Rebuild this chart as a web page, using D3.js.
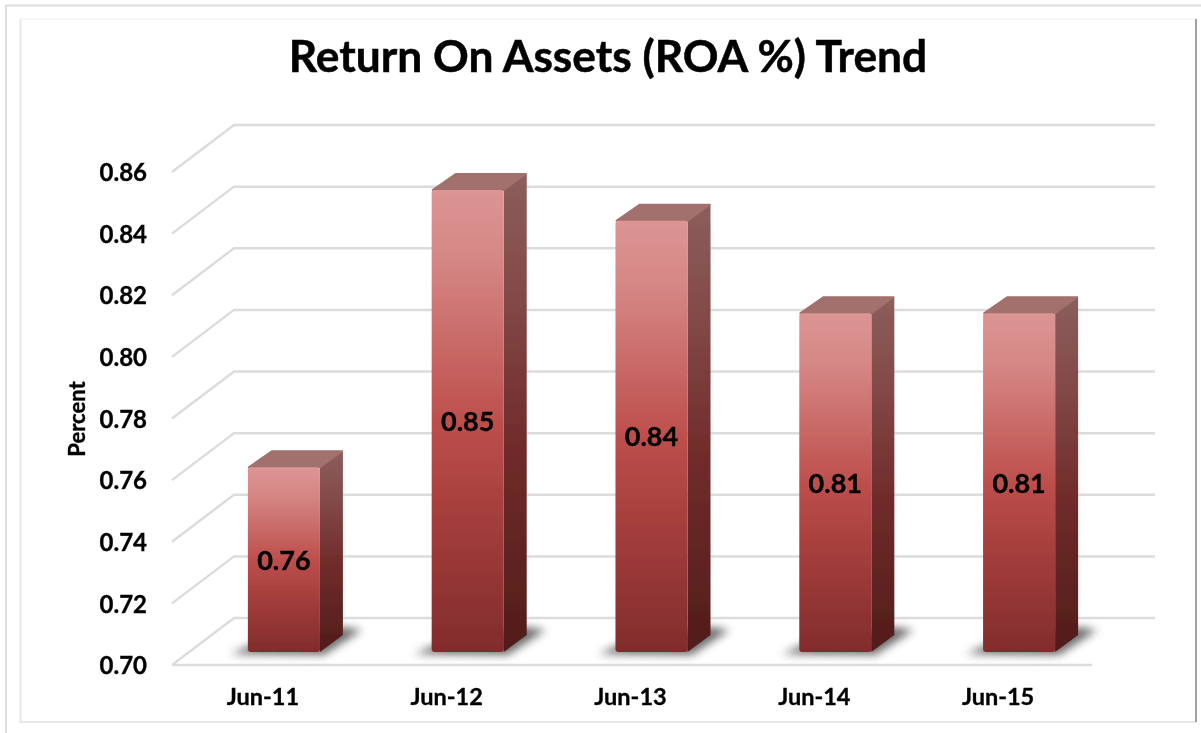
<!DOCTYPE html>
<html>
<head>
<meta charset="utf-8">
<script src="https://cdn.jsdelivr.net/npm/d3@7"></script>
<style>
    html, body { margin: 0; padding: 0; background: #fff; }
    text { font-family: Lato, "Open Sans", sans-serif; font-weight: 700; fill: #000; stroke: #000; stroke-width: 0.35px; }
</style>
</head>
<body>
<div id="graph"></div>
<script>
const categories = ["Jun-11", "Jun-12", "Jun-13", "Jun-14", "Jun-15"];
const roaValues = [0.76, 0.85, 0.84, 0.81, 0.81];
const roaLabels = ["0.76", "0.85", "0.84", "0.81", "0.81"];
const tickValues = [0.70, 0.72, 0.74, 0.76, 0.78, 0.80, 0.82, 0.84, 0.86];

let CANVAS_WIDTH = 1201,
    CANVAS_HEIGHT = 733,
    WALL_DX = 62,
    WALL_DY = -47,
    BAR_DX = 23,
    BAR_DY = -17,
    GRID_COLOR = "#dcdcdc";

let svg = d3.select("#graph").append("svg")
    .attr("width", CANVAS_WIDTH)
    .attr("height", CANVAS_HEIGHT)
    .style("display", "block");

let defs = svg.append("defs");

// gradients for the faces of a bar
function addGradient(id, stops) {
    let g = defs.append("linearGradient").attr("id", id)
        .attr("x1", 0).attr("y1", 0).attr("x2", 0).attr("y2", 1);
    stops.forEach(s => g.append("stop").attr("offset", s[0]).attr("stop-color", s[1]));
}
addGradient("front", [[0, "#dc9594"], [0.15, "#d58785"], [0.5, "#bd4f4c"], [0.72, "#a33d3b"], [1, "#812c2c"]]);
addGradient("side", [[0, "#8b5e5c"], [0.25, "#834a48"], [0.55, "#712d2b"], [1, "#521c1a"]]);

defs.append("filter").attr("id", "soft")
    .attr("x", "-40%").attr("y", "-80%").attr("width", "180%").attr("height", "260%")
    .append("feGaussianBlur").attr("stdDeviation", 4);
// the reference is a slightly soft raster, so everything gets a small blur
defs.append("filter").attr("id", "blur1")
    .attr("filterUnits", "userSpaceOnUse")
    .attr("x", 0).attr("y", 0).attr("width", CANVAS_WIDTH).attr("height", CANVAS_HEIGHT)
    .append("feGaussianBlur").attr("stdDeviation", 0.45);

let chart = svg.append("g").attr("filter", "url(#blur1)");

// picture frame
chart.append("path")
    .attr("d", "M6 733V5.5H1201")
    .attr("fill", "none").attr("stroke", "#dedede").attr("stroke-width", 2);
chart.append("path")
    .attr("d", "M20 19H1196")
    .attr("fill", "none").attr("stroke", "#f6f6f6").attr("stroke-width", 1.5);
chart.append("path")
    .attr("d", "M20.5 19V722H1196")
    .attr("fill", "none").attr("stroke", "#e8e8e8").attr("stroke-width", 2);
chart.append("path")
    .attr("d", "M1196 19V722")
    .attr("fill", "none").attr("stroke", "#a0a0a0").attr("stroke-width", 2);

// scales: y for the front of the wall, yBar for the bar faces
let y = d3.scaleLinear().domain([0.70, 0.86]).range([665, 172]);
let yBar = d3.scaleLinear().domain([0.70, 0.85]).range([652, 190]);
let x = d3.scaleBand().domain(categories)
    .range([192, 1111]).paddingInner(0.608).paddingOuter(0.304);

// gridlines on side wall and back wall
let grid = chart.append("g").attr("fill", "none").attr("stroke", GRID_COLOR).attr("stroke-width", 2.5);
grid.selectAll("path").data(tickValues).join("path")
    .attr("d", d => `M${172} ${y(d)}L${172 + WALL_DX} ${y(d) + WALL_DY}H1155`);
grid.append("line")
    .attr("x1", 172).attr("x2", 1092).attr("y1", y(0.70)).attr("y2", y(0.70));

// axis labels
let yAxis = d3.axisLeft(y).tickValues(tickValues).tickFormat(d3.format(".2f")).tickSize(0).tickPadding(0);
let yG = chart.append("g").attr("transform", "translate(147,0)").call(yAxis);
yG.select(".domain").remove();
yG.selectAll("text").attr("font-size", 24).attr("font-family", null).attr("dy", "0.36em");

// category labels sit left of the bars, under the front edge of the floor
let xAxis = d3.axisBottom(x).tickSize(0).tickPadding(0);
let xG = chart.append("g").attr("transform", "translate(-21,690)").call(xAxis);
xG.select(".domain").remove();
xG.selectAll("text").attr("font-size", 23.5).attr("font-family", null).attr("dy", "0.65em");

chart.append("text")
    .attr("transform", "translate(85,419) rotate(-90)")
    .attr("text-anchor", "middle")
    .attr("font-size", 22)
    .text("Percent");

chart.append("text")
    .attr("x", 608).attr("y", 72)
    .attr("text-anchor", "middle")
    .attr("font-size", 44.3)
    .style("stroke-width", "0.5px")
    .text("Return On Assets (ROA %) Trend");

// bars
let bar = chart.append("g").selectAll("g").data(categories).join("g");

bar.append("path")
    .attr("class", "shadow")
    .attr("d", d => {
        let x0 = x(d), w = x.bandwidth(), b = yBar(0.70);
        return `M${x0 - 17} ${b + 2}L${x0 + w + 4} ${b + 3}L${x0 + w + BAR_DX + 19} ${b - 22}L${x0 + w + BAR_DX} ${b - 25}L${x0 + 10} ${b - 10}Z`;
    })
    .attr("fill", "#555")
    .attr("opacity", 0.85)
    .attr("filter", "url(#soft)");

bar.append("path")
    .attr("d", (d, i) => {
        let x0 = x(d) + x.bandwidth(), t = yBar(roaValues[i]), b = yBar(0.70);
        return `M${x0} ${t}L${x0 + BAR_DX} ${t + BAR_DY}L${x0 + BAR_DX} ${b + BAR_DY}L${x0} ${b}Z`;
    })
    .attr("fill", "url(#side)");

bar.append("path")
    .attr("d", (d, i) => {
        let x0 = x(d), w = x.bandwidth(), t = yBar(roaValues[i]);
        return `M${x0 + 1} ${t}L${x0 + BAR_DX + 1} ${t + BAR_DY + 1}H${x0 + w + BAR_DX - 1}L${x0 + w} ${t}Z`;
    })
    .attr("fill", "#a2706d")
    .attr("stroke", "#a2706d")
    .attr("stroke-width", 2)
    .attr("stroke-linejoin", "round");

bar.append("rect")
    .attr("x", d => x(d))
    .attr("y", (d, i) => yBar(roaValues[i]))
    .attr("width", x.bandwidth())
    .attr("height", (d, i) => yBar(0.70) - yBar(roaValues[i]))
    .attr("rx", 3)
    .attr("fill", "url(#front)");

// value labels sit about mid way up the bar
bar.append("text")
    .attr("x", d => x(d) + x.bandwidth() / 2)
    .attr("y", (d, i) => (yBar(roaValues[i]) + yBar(0.70)) / 2 + 10)
    .attr("text-anchor", "middle")
    .attr("font-size", 27)
    .text((d, i) => roaLabels[i]);
</script>
</body>
</html>
